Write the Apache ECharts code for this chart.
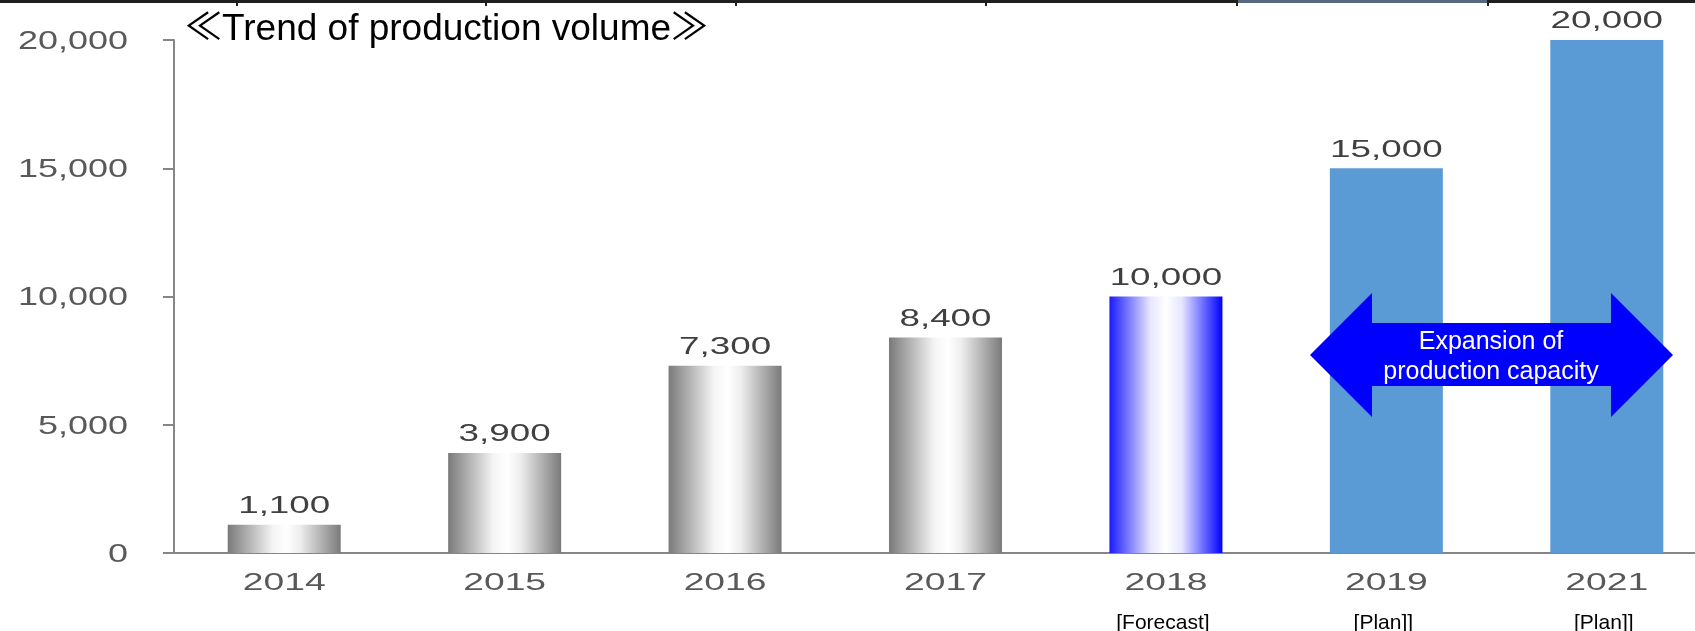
<!DOCTYPE html>
<html><head><meta charset="utf-8">
<script src="https://cdn.jsdelivr.net/npm/echarts@6/dist/echarts.min.js"></script>
<style>html,body{margin:0;padding:0;background:#fff}#c{width:1695px;height:631px}</style>
</head><body><div id="c"></div>
<script>
// ---- data ----
const categories = ['2014', '2015', '2016', '2017', '2018', '2019', '2021'];
const production = [1100, 3900, 7300, 8400, 10000, 15000, 20000];
const status = ['actual', 'actual', 'actual', 'actual', 'forecast', 'plan', 'plan'];
const subLabels = ['', '', '', '', '[Forecast]', '[Plan]]', '[Plan]]'];
const yTicks = [0, 5000, 10000, 15000, 20000];
const titleText = '\u226ATrend of production volume\u226B';
const arrowText = ['Expansion of', 'production capacity'];

// ---- styles ----
const NUM_FONT = "'Liberation Sans', Arial, sans-serif";
const fmt = v => Number(v).toLocaleString('en-US');
const styleFor = {
  actual: () => new echarts.graphic.LinearGradient(0, 0, 1, 0, [
    {offset: 0, color: '#7a7a7a'}, {offset: 0.4, color: '#f4f4f4'},
    {offset: 0.52, color: '#ffffff'}, {offset: 0.64, color: '#eeeeee'}, {offset: 1, color: '#7a7a7a'}]),
  forecast: () => new echarts.graphic.LinearGradient(0, 0, 1, 0, [
    {offset: 0, color: '#1a1aff'}, {offset: 0.36, color: '#e6e6ff'},
    {offset: 0.5, color: '#ffffff'}, {offset: 0.64, color: '#e6e6ff'}, {offset: 1, color: '#0000ff'}]),
  plan: () => '#5b9bd5'
};

const chart = echarts.init(document.getElementById('c'), null, {renderer: 'canvas'});

const axisGray = '#868686';

const option = {
  animation: false,
  grid: {left: 174, top: 40, width: 1543, height: 513, containLabel: false, outerBoundsMode: 'none'},
  xAxis: {
    type: 'category', data: categories,
    axisLine: {show: true, lineStyle: {color: axisGray, width: 2}},
    axisTick: {show: false}, axisLabel: {show: false}, splitLine: {show: false}
  },
  yAxis: {
    type: 'value', min: 0, max: 20000, interval: 5000,
    axisLine: {show: true, lineStyle: {color: axisGray, width: 2}},
    axisTick: {show: true, length: 11, lineStyle: {color: axisGray, width: 2}},
    axisLabel: {show: false}, splitLine: {show: false}
  },
  series: [
    {
      type: 'bar', barWidth: 113, z: 2,
      data: production.map((v, i) => ({value: v, itemStyle: {color: styleFor[status[i]]()}}))
    },
    {
      type: 'custom', z: 5, silent: true, clip: false,
      data: production.map((v, i) => [i, v]),
      renderItem: (params, api) => {
        const i = api.value(0), v = api.value(1);
        const top = api.coord([i, v]);
        const base = api.coord([i, 0]);
        return {type: 'group', children: [
          {type: 'text', x: top[0], y: top[1] - 18, scaleX: 1.6,
           style: {text: fmt(v), font: '23px ' + NUM_FONT, fill: '#404040', align: 'center', verticalAlign: 'middle'}},
          {type: 'text', x: base[0], y: base[1] + 31, scaleX: 1.62,
           style: {text: categories[i], font: '23px ' + NUM_FONT, fill: '#595959', align: 'center', verticalAlign: 'middle'}},
          {type: 'text', x: base[0] - 3, y: base[1] + 70,
           style: {text: subLabels[i], font: '21px ' + NUM_FONT, fill: '#000', align: 'center', verticalAlign: 'middle'}}
        ]};
      }
    },
    {
      type: 'custom', z: 5, silent: true, clip: false,
      data: yTicks.map(t => [0, t]),
      renderItem: (params, api) => {
        const p = api.coord([0, api.value(1)]);
        return {type: 'text', x: params.coordSys.x - 46, y: p[1] + 2, scaleX: 1.44,
          style: {text: fmt(api.value(1)), font: '25px ' + NUM_FONT, fill: '#595959', align: 'right', verticalAlign: 'middle'}};
      }
    }
  ],
  graphic: [
    {type: 'rect', z: 100, shape: {x: 0, y: 0, width: 1695, height: 3}, style: {fill: '#1f1f1f'}},
    {type: 'rect', z: 101, shape: {x: 1238, y: 0, width: 250, height: 3}, style: {fill: '#5a687e'}},
    ...[236, 485, 735, 985, 1236, 1487].map(x => ({type: 'rect', z: 102, shape: {x: x, y: 0, width: 2, height: 6}, style: {fill: '#1f1f1f'}})),
    {type: 'text', z: 100, x: 185, y: 30,
     style: {text: titleText, font: "37px 'Liberation Sans', 'Noto Sans CJK JP', sans-serif", fill: '#000', verticalAlign: 'middle'}},
    {type: 'polygon', z: 100, shape: {points: [
      [1310, 355], [1372, 293], [1372, 323], [1611, 323], [1611, 293], [1673, 355],
      [1611, 417], [1611, 386], [1372, 386], [1372, 417]]}, style: {fill: '#0000ff'}},
    {type: 'text', z: 101, x: 1491, y: 357,
     style: {text: arrowText.join('\n'), font: "25px 'Liberation Sans', Arial, sans-serif", lineHeight: 30, fill: '#fff', align: 'center', verticalAlign: 'middle'}}
  ]
};
chart.setOption(option);
</script>
</body></html>
